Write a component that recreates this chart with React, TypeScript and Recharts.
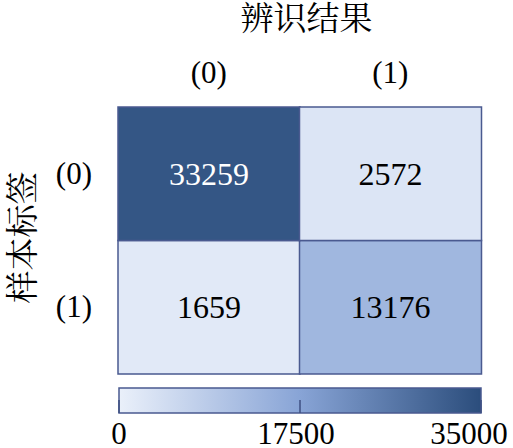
import React from 'react';
import { BarChart, Bar, XAxis, YAxis, Cell, LabelList } from 'recharts';

const columnLabels = ['(0)', '(1)'];
const rowLabels = ['(0)', '(1)'];
const row0Values = [33259, 2572];
const row1Values = [1659, 13176];
const colorTicks = [0, 17500, 35000];

const CJK = 'Noto Serif CJK SC, Noto Sans CJK SC, serif';
const BORDER = '#4a5a90';

// colour ramp: light -> mid blue -> dark navy
const rampStops = [
  { t: 0, c: [234, 240, 250] },
  { t: 0.5, c: [136, 164, 214] },
  { t: 1, c: [43, 77, 124] },
];

const colorFor = (v: number) => {
  const max = colorTicks[colorTicks.length - 1];
  const t = Math.max(0, Math.min(1, v / max));
  for (let i = 1; i < rampStops.length; i++) {
    const a = rampStops[i - 1];
    const b = rampStops[i];
    if (t <= b.t) {
      const k = (t - a.t) / (b.t - a.t);
      const c = a.c.map((ch, j) => Math.round(ch + (b.c[j] - ch) * k));
      return `rgb(${c[0]},${c[1]},${c[2]})`;
    }
  }
  const last = rampStops[rampStops.length - 1].c;
  return `rgb(${last[0]},${last[1]},${last[2]})`;
};

const matrixData = columnLabels.map((col, i) => ({
  col,
  r0: row0Values[i],
  r1: row1Values[i],
  unit: 1,
}));

const colorbarData = [{ name: 'scale', value: colorTicks[colorTicks.length - 1] }];

// latin text inherits the page's default serif font
const CellLabel = (props: any) => {
  const { x, y, width, height, value } = props;
  const dark = value > colorTicks[colorTicks.length - 1] * 0.6;
  return (
    <text
      x={x + width / 2}
      y={y + height / 2 + 11}
      textAnchor="middle"
      fontSize={32}
      fill={dark ? '#ffffff' : '#000000'}
    >
      {value}
    </text>
  );
};

const TitleLabel = ({ viewBox }: any) => (
  <text
    x={viewBox.x + viewBox.width / 2 + 7}
    y={viewBox.y - 27}
    textAnchor="middle"
    fontFamily={CJK}
    fontSize={33}
    fill="#000"
  >
    辨识结果
  </text>
);

const RowTitle = ({ viewBox }: any) => {
  const x = viewBox.x - 36;
  const y = viewBox.y + viewBox.height / 2 - 3;
  return (
    <g transform={`rotate(-90, ${x}, ${y})`}>
      <text x={x} y={y + 12} textAnchor="middle" fontFamily={CJK} fontSize={33} fill="#000">
        样本标签
      </text>
    </g>
  );
};

const AxisTick = (props: any) => {
  const { x, y, payload, textAnchor, orientation, fmt } = props;
  const label = fmt ? fmt(payload.value) : payload.value;
  return (
    <text x={x} y={orientation === 'top' ? y : y + 10} textAnchor={textAnchor} fontSize={31} fill="#000">
      {label}
    </text>
  );
};

const ColorbarTick = (props: any) => {
  const { x, y, payload, index } = props;
  const shift = index === colorTicks.length - 1 ? -12 : index === 0 ? 0 : -4;
  return (
    <g>
      <line x1={x} x2={x} y1={y - 13} y2={y} stroke="#3e4f82" strokeWidth={1.5} />
      <text x={x + shift} y={y + 31} textAnchor="middle" fontSize={31} fill="#000">
        {payload.value}
      </text>
    </g>
  );
};

const rowTicks = rowLabels.map((_, i) => rowLabels.length - i - 0.5);
const rowFormatter = (v: number) => rowLabels[rowLabels.length - 0.5 - v];

export default function App() {
  return (
    <div style={{ position: 'absolute', left: 0, top: 0, width: 513, height: 448, background: '#fff' }}>
      <div style={{ position: 'absolute', left: 0, top: 0 }}>
        <BarChart
          width={513}
          height={380}
          data={matrixData}
          margin={{ top: 57, right: 32, bottom: 6, left: 58 }}
          barCategoryGap={0}
          barGap={0}
        >
          <XAxis
            dataKey="col"
            orientation="top"
            height={50}
            tickLine={false}
            axisLine={false}
            tickMargin={18}
            tick={<AxisTick orientation="top" />}
            label={<TitleLabel />}
          />
          <YAxis
            type="number"
            domain={[0, rowLabels.length]}
            ticks={rowTicks}
            width={60}
            tickLine={false}
            axisLine={false}
            tickMargin={20}
            tickFormatter={rowFormatter}
            tick={<AxisTick orientation="left" fmt={rowFormatter} />}
            label={<RowTitle />}
          />
          <Bar dataKey="unit" stackId="m" stroke={BORDER} strokeWidth={1.5} isAnimationActive={false}>
            {row1Values.map((v, i) => (
              <Cell key={`r1-${i}`} fill={colorFor(v)} />
            ))}
            <LabelList dataKey="r1" content={<CellLabel />} />
          </Bar>
          <Bar dataKey="unit" stackId="m" stroke={BORDER} strokeWidth={1.5} isAnimationActive={false}>
            {row0Values.map((v, i) => (
              <Cell key={`r0-${i}`} fill={colorFor(v)} />
            ))}
            <LabelList dataKey="r0" content={<CellLabel />} />
          </Bar>
        </BarChart>
      </div>
      <div style={{ position: 'absolute', left: 0, top: 380 }}>
        <BarChart
          width={513}
          height={68}
          data={colorbarData}
          layout="vertical"
          margin={{ top: 8, right: 32, bottom: 0, left: 119 }}
          barCategoryGap={0}
        >
          <defs>
            <linearGradient id="cbar" x1="0" y1="0" x2="1" y2="0">
              {rampStops.map((s) => (
                <stop key={s.t} offset={`${s.t * 100}%`} stopColor={`rgb(${s.c.join(',')})`} />
              ))}
            </linearGradient>
          </defs>
          <XAxis
            type="number"
            domain={[colorTicks[0], colorTicks[colorTicks.length - 1]]}
            ticks={colorTicks}
            height={35}
            tickSize={0}
            tickMargin={0}
            tickLine={false}
            axisLine={false}
            tick={<ColorbarTick />}
          />
          <YAxis type="category" dataKey="name" hide />
          <Bar dataKey="value" fill="url(#cbar)" stroke={BORDER} strokeWidth={1.5} isAnimationActive={false} />
        </BarChart>
      </div>
    </div>
  );
}
